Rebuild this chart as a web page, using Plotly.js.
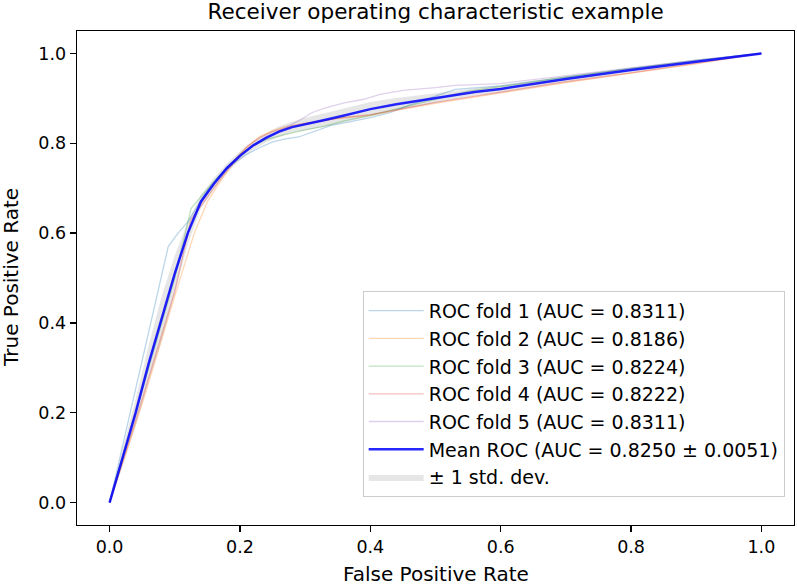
<!DOCTYPE html>
<html>
<head>
<meta charset="utf-8">
<script src="https://cdn.plot.ly/plotly-3.0.1.min.js"></script>
<style>html,body{margin:0;padding:0;background:#fff;}#chart{width:797px;height:585px;}</style>
</head>
<body>
<div id="chart"></div>
<script>
// ---- data ----
const fold1Fpr = [0, 0.09, 0.105, 0.12, 0.135, 0.15, 0.17, 0.19, 0.21, 0.23, 0.25, 0.27, 0.29, 0.31, 0.34, 0.37, 0.40, 0.43, 0.46, 0.50, 0.53, 0.60, 0.70, 0.80, 0.90, 1.0];
const fold1Tpr = [0, 0.57, 0.60, 0.625, 0.66, 0.695, 0.73, 0.755, 0.775, 0.79, 0.803, 0.81, 0.814, 0.825, 0.84, 0.848, 0.857, 0.868, 0.885, 0.905, 0.92, 0.928, 0.948, 0.967, 0.985, 1.0];

const fold2Fpr = [0, 0.05, 0.10, 0.13, 0.15, 0.17, 0.19, 0.21, 0.23, 0.25, 0.27, 0.30, 0.35, 0.40, 0.45, 0.50, 0.60, 0.70, 0.80, 0.90, 1.0];
const fold2Tpr = [0, 0.22, 0.46, 0.60, 0.67, 0.715, 0.755, 0.79, 0.815, 0.828, 0.837, 0.845, 0.855, 0.862, 0.876, 0.889, 0.912, 0.935, 0.956, 0.977, 1.0];

const fold3Fpr = [0, 0.05, 0.10, 0.125, 0.14, 0.16, 0.18, 0.20, 0.22, 0.24, 0.27, 0.30, 0.33, 0.36, 0.40, 0.45, 0.50, 0.55, 0.60, 0.70, 0.80, 0.90, 1.0];
const fold3Tpr = [0, 0.25, 0.50, 0.655, 0.68, 0.715, 0.745, 0.775, 0.795, 0.808, 0.82, 0.83, 0.838, 0.85, 0.862, 0.88, 0.898, 0.916, 0.926, 0.947, 0.966, 0.984, 1.0];

const fold4Fpr = [0, 0.05, 0.10, 0.125, 0.15, 0.17, 0.19, 0.21, 0.23, 0.25, 0.28, 0.31, 0.35, 0.40, 0.45, 0.50, 0.60, 0.70, 0.80, 0.90, 1.0];
const fold4Tpr = [0, 0.23, 0.47, 0.63, 0.68, 0.72, 0.76, 0.792, 0.812, 0.826, 0.838, 0.846, 0.856, 0.864, 0.878, 0.891, 0.914, 0.937, 0.957, 0.978, 1.0];

const fold5Fpr = [0, 0.05, 0.10, 0.13, 0.15, 0.17, 0.19, 0.21, 0.23, 0.25, 0.27, 0.29, 0.31, 0.33, 0.36, 0.39, 0.415, 0.45, 0.50, 0.53, 0.60, 0.70, 0.80, 0.90, 1.0];
const fold5Tpr = [0, 0.26, 0.51, 0.64, 0.69, 0.725, 0.755, 0.785, 0.805, 0.82, 0.835, 0.85, 0.868, 0.878, 0.89, 0.898, 0.909, 0.918, 0.924, 0.929, 0.933, 0.951, 0.968, 0.985, 1.0];

const meanFpr = [0, 0.02, 0.04, 0.06, 0.08, 0.10, 0.12, 0.14, 0.16, 0.18, 0.20, 0.22, 0.24, 0.26, 0.28, 0.30, 0.33, 0.36, 0.40, 0.44, 0.48, 0.52, 0.56, 0.60, 0.70, 0.80, 0.90, 1.0];
const meanTpr = [0, 0.10, 0.20, 0.31, 0.41, 0.51, 0.60, 0.67, 0.71, 0.745, 0.772, 0.795, 0.812, 0.826, 0.836, 0.843, 0.852, 0.862, 0.876, 0.887, 0.896, 0.906, 0.914, 0.921, 0.943, 0.963, 0.981, 1.0];
const stdTpr  = [0, 0.02, 0.03, 0.04, 0.05, 0.04, 0.025, 0.015, 0.012, 0.01, 0.01, 0.01, 0.01, 0.012, 0.012, 0.014, 0.015, 0.015, 0.016, 0.014, 0.012, 0.01, 0.008, 0.008, 0.006, 0.005, 0.003, 0];

const foldNames = ["ROC fold 1 (AUC = 0.8311)", "ROC fold 2 (AUC = 0.8186)", "ROC fold 3 (AUC = 0.8224)", "ROC fold 4 (AUC = 0.8222)", "ROC fold 5 (AUC = 0.8311)"];
const meanName = "Mean ROC (AUC = 0.8250 \u00b1 0.0051)";
const stdName = "\u00b1 1 std. dev.";
const tickVals = [0, 0.2, 0.4, 0.6, 0.8, 1.0];
const tickText = ["0.0", "0.2", "0.4", "0.6", "0.8", "1.0"];
const titleText = "Receiver operating characteristic example";
const xTitleText = "False Positive Rate";
const yTitleText = "True Positive Rate";

// ---- build ----
const foldColors = ["rgba(31,119,180,0.3)", "rgba(255,127,14,0.3)", "rgba(44,160,44,0.3)", "rgba(214,39,40,0.3)", "rgba(148,103,189,0.3)"];
const folds = [[fold1Fpr, fold1Tpr], [fold2Fpr, fold2Tpr], [fold3Fpr, fold3Tpr], [fold4Fpr, fold4Tpr], [fold5Fpr, fold5Tpr]];

const upper = meanTpr.map((v, i) => Math.min(v + stdTpr[i], 1));
const lower = meanTpr.map((v, i) => Math.max(v - stdTpr[i], 0));

const traces = [];
traces.push({x: meanFpr, y: lower, mode: 'lines', line: {width: 0, color: 'rgba(128,128,128,0)'}, showlegend: false, hoverinfo: 'skip'});
traces.push({x: meanFpr, y: upper, mode: 'lines', fill: 'tonexty', fillcolor: 'rgba(128,128,128,0.2)', line: {width: 0, color: 'rgba(128,128,128,0)'}, name: stdName, legendrank: 7});
folds.forEach((f, i) => {
  traces.push({x: f[0], y: f[1], mode: 'lines', name: foldNames[i], line: {color: foldColors[i], width: 1.3}, legendrank: i + 1});
});
traces.push({x: meanFpr, y: meanTpr, mode: 'lines', name: meanName, line: {color: 'rgba(0,0,255,0.85)', width: 2.5}, legendrank: 6});

const FONT = 'DejaVu Sans';
const axisCommon = {
  showline: true, mirror: true, linecolor: '#000', linewidth: 1.3,
  ticks: 'outside', ticklen: 6, tickwidth: 1.3, tickcolor: '#000',
  showgrid: false, zeroline: false, automargin: false,
  tickvals: tickVals, ticktext: tickText,
  tickfont: {family: FONT, size: 17.5, color: '#000'}
};

const layout = {
  width: 797, height: 585,
  margin: {l: 77, r: 3, t: 31, b: 60},
  paper_bgcolor: '#fff', plot_bgcolor: '#fff',
  title: {text: titleText, font: {family: FONT, size: 21.5, color: '#000'}, x: 0.5465, xanchor: 'center', y: 0.981, yanchor: 'middle'},
  xaxis: Object.assign({}, axisCommon, {range: [-0.05, 1.05]}),
  yaxis: Object.assign({}, axisCommon, {range: [-0.05, 1.05]}),
  annotations: [
    {text: xTitleText, xref: 'paper', yref: 'paper', x: 0.5, y: -0.099, xanchor: 'center', yanchor: 'middle', showarrow: false, font: {family: FONT, size: 20, color: '#000'}},
    {text: yTitleText, xref: 'paper', yref: 'paper', x: -0.092, y: 0.5, xanchor: 'center', yanchor: 'middle', textangle: -90, showarrow: false, font: {family: FONT, size: 20, color: '#000'}}
  ],
  legend: {x: 0.987, y: 0.057, xanchor: 'right', yanchor: 'bottom', traceorder: 'normal', itemwidth: 55, bgcolor: 'rgba(255,255,255,0.8)', bordercolor: '#cccccc', borderwidth: 1, font: {family: FONT, size: 19, color: '#000'}},
  showlegend: true
};

Plotly.newPlot('chart', traces, layout, {displayModeBar: false, staticPlot: true});
</script>
</body>
</html>
